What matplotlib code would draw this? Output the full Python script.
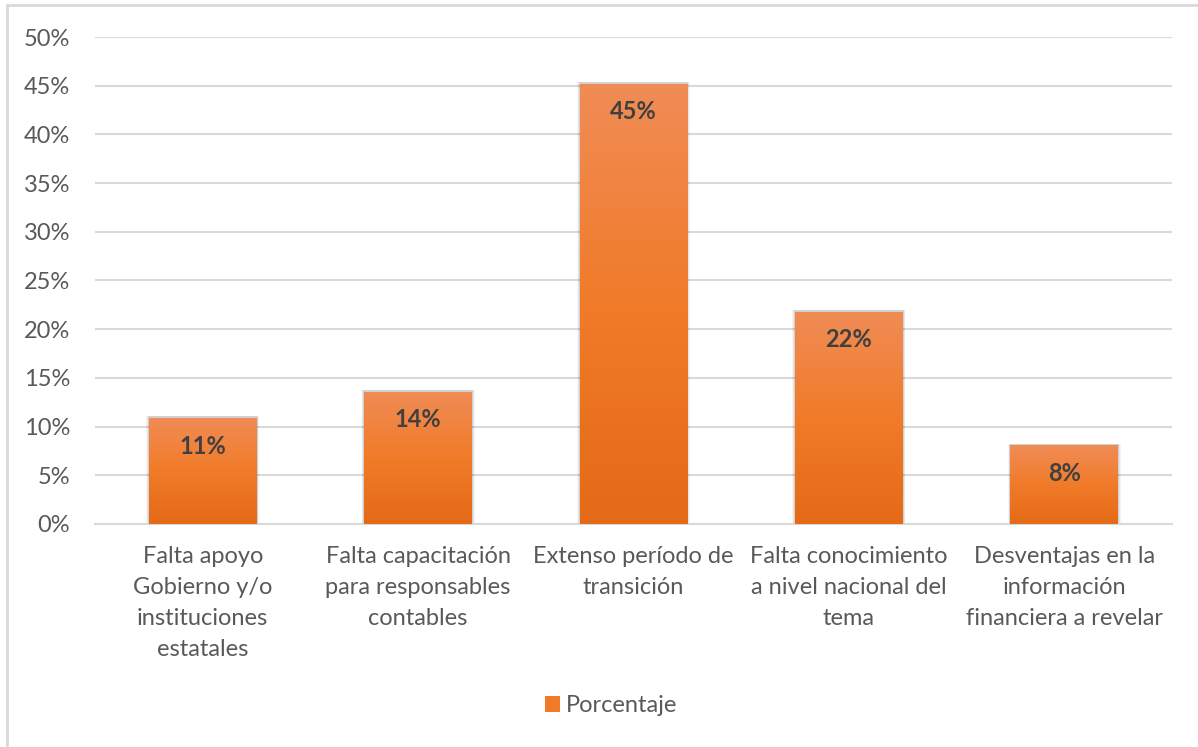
import numpy as np
import matplotlib
matplotlib.use('Agg')
import matplotlib.pyplot as plt
from matplotlib.colors import LinearSegmentedColormap
from matplotlib.patches import Rectangle
from matplotlib.ticker import FuncFormatter, MultipleLocator

# Datos de la encuesta
categorias = [
    'Falta apoyo\nGobierno y/o\ninstituciones\nestatales',
    'Falta capacitación\npara responsables\ncontables',
    'Extenso período de\ntransición',
    'Falta conocimiento\na nivel nacional del\ntema',
    'Desventajas en la\ninformación\nfinanciera a revelar',
]
porcentaje = [0.109, 0.136, 0.452, 0.218, 0.081]

plt.rcParams['font.family'] = ['Lato', 'DejaVu Sans']
GRIS_TEXTO = '#595959'
TAM = 17

fig = plt.figure(figsize=(11.98, 7.47), dpi=100)
ax = fig.add_axes([95 / 1198, 1 - 524 / 747, 1077 / 1198, 487 / 747])

# Marco exterior del gráfico
fig.patches.append(Rectangle((7 / 1198, -0.1), 1.2, 1 - 5 / 747 + 0.1,
                             transform=fig.transFigure, fill=False,
                             edgecolor='#D9D9D9', linewidth=2))

x = np.arange(len(categorias))
ancho = 0.5
degradado = LinearSegmentedColormap.from_list(
    'naranja', ['#E46A17', '#F17B29', '#F08C56'])
grad = np.linspace(0, 1, 256).reshape(-1, 1)

barras = ax.bar(x, porcentaje, width=ancho, color='#F07A28', zorder=3)
for b, v in zip(barras, porcentaje):
    x0 = b.get_x()
    # sombra suave alrededor de la barra
    for k, a in zip([0.05, 0.035, 0.02], [0.04, 0.06, 0.09]):
        ax.add_patch(Rectangle((x0 - k * 0.25, 0), ancho + k * 0.5, v + 0.0015,
                               facecolor='#000000', alpha=a, linewidth=0,
                               zorder=2))
    im = ax.imshow(grad, cmap=degradado, origin='lower', aspect='auto',
                   extent=[x0, x0 + ancho, 0, v], zorder=4)
    im.set_clip_path(b)
    ax.text(b.get_x() + ancho / 2, v - 0.029, f'{v:.0%}', ha='center',
            va='center', fontsize=TAM, fontweight='bold', color='#404040',
            zorder=5)

ax.set_xlim(-0.5, len(categorias) - 0.5)
ax.set_ylim(0, 0.5)
ax.yaxis.set_major_locator(MultipleLocator(0.05))
ax.yaxis.set_major_formatter(FuncFormatter(lambda v, p: f'{v:.0%}'))
ax.grid(axis='y', color='#D9D9D9', linewidth=1.5, zorder=0)
ax.set_axisbelow(True)
for lado in ['top', 'right', 'left']:
    ax.spines[lado].set_visible(False)
ax.spines['bottom'].set_color('#D9D9D9')
ax.spines['bottom'].set_linewidth(1.5)
ax.tick_params(length=0, colors=GRIS_TEXTO, labelsize=TAM)
ax.tick_params(axis='y', pad=18)
ax.tick_params(axis='x', pad=16)
ax.set_xticks(x)
ax.set_xticklabels(categorias, linespacing=1.58)

# Leyenda
ax.legend([Rectangle((0, 0), 1, 1, facecolor='#F07A28')], ['Porcentaje'],
          loc='center', bbox_to_anchor=(0.479, (524 - 706) / 487),
          frameon=False, fontsize=TAM, handlelength=0.65, handleheight=0.65,
          handletextpad=0.25, labelcolor=GRIS_TEXTO)

fig.savefig('out.png', dpi=100)
